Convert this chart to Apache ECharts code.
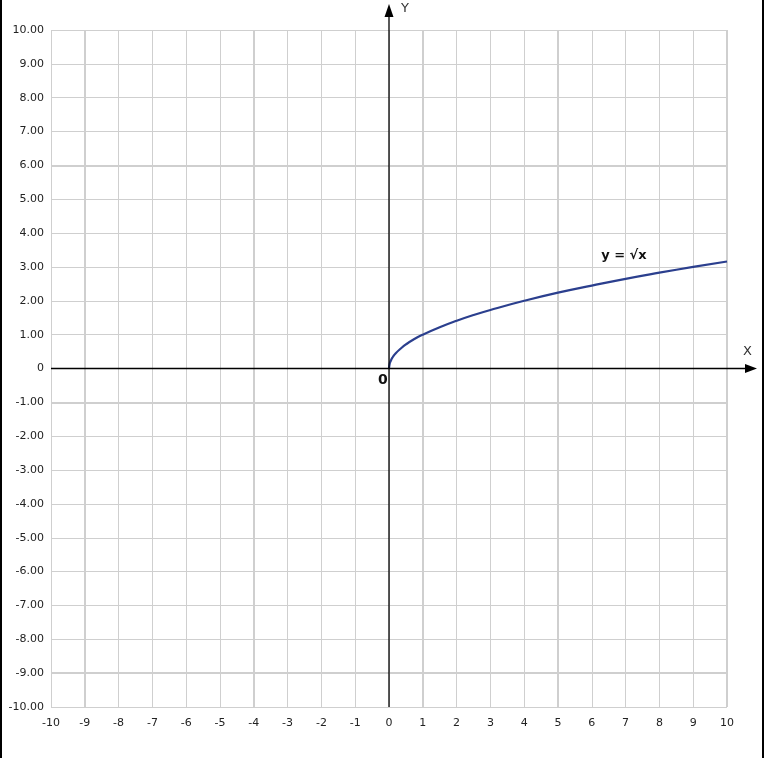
<!DOCTYPE html>
<html>
<head>
<meta charset="utf-8">
<script src="https://cdn.jsdelivr.net/npm/echarts@6/dist/echarts.min.js"></script>
<style>
html,body{margin:0;padding:0;background:#fff;}
#main{width:765px;height:758px;}
</style>
</head>
<body>
<div id="main"></div>
<script>
// Data
var xTicks = [-10, -9, -8, -7, -6, -5, -4, -3, -2, -1, 0, 1, 2, 3, 4, 5, 6, 7, 8, 9, 10];
var yTicks = [-10, -9, -8, -7, -6, -5, -4, -3, -2, -1, 0, 1, 2, 3, 4, 5, 6, 7, 8, 9, 10];
var curveX = [0, 0.02, 0.05, 0.1, 0.2, 0.35, 0.5, 0.75, 1, 1.5, 2, 2.5, 3, 4, 5, 6, 7, 8, 9, 10];
var curveY = [0, 0.14, 0.22, 0.32, 0.45, 0.59, 0.71, 0.87, 1, 1.22, 1.41, 1.58, 1.73, 2, 2.24, 2.45, 2.65, 2.83, 3, 3.16];
var curveLabel = 'y = √x';
var labelPos = [6.95, 3.34];
var thickX = [-9, -4, 1, 5, 10];
var thickY = [6, -1, -9];

var font = 'DejaVu Sans';
var chart = echarts.init(document.getElementById('main'));
var pts = curveX.map(function (x, i) { return [x, curveY[i]]; });

var thickLines = thickX.map(function (v) { return { xAxis: v }; })
  .concat(thickY.map(function (v) { return { yAxis: v }; }));

chart.setOption({
  animation: false,
  grid: { left: 51, right: 38, top: 30, bottom: 51 },
  xAxis: {
    type: 'value', min: -10, max: 10, interval: 1,
    axisLine: { show: false }, axisTick: { show: false },
    axisLabel: { color: '#222', fontFamily: font, fontSize: 11, margin: 11 },
    splitLine: { lineStyle: { color: '#cfcfcf', width: 1 } }
  },
  yAxis: {
    type: 'value', min: -10, max: 10, interval: 1,
    axisLine: { show: false }, axisTick: { show: false },
    axisLabel: {
      color: '#222', fontFamily: font, fontSize: 11, margin: 7,
      formatter: function (v) { return v === 0 ? '0' : v.toFixed(2); }
    },
    splitLine: { lineStyle: { color: '#cfcfcf', width: 1 } }
  },
  series: [
    {
      type: 'line', data: [], silent: true,
      markLine: {
        silent: true, symbol: 'none', label: { show: false },
        lineStyle: { color: '#cfcfcf', width: 2, type: 'solid' },
        data: thickLines
      }
    },
    {
      type: 'line', data: pts, smooth: true, showSymbol: false,
      lineStyle: { color: '#2b3f8e', width: 2.2 }, z: 5
    }
  ]
});

function px(p) { return chart.convertToPixel({ gridIndex: 0 }, p); }
var o = px([0, 0]);
var tl = px([-10, 10]);
var br = px([10, -10]);
var lp = px(labelPos);

chart.setOption({
  graphic: [
    { type: 'line', shape: { x1: tl[0], y1: o[1], x2: 752, y2: o[1] }, style: { stroke: '#000', lineWidth: 1.3 }, z: 10 },
    { type: 'polygon', shape: { points: [[757, o[1]], [745, o[1] - 4.5], [745, o[1] + 4.5]] }, style: { fill: '#000' }, z: 10 },
    { type: 'line', shape: { x1: o[0], y1: br[1], x2: o[0], y2: 10 }, style: { stroke: '#000', lineWidth: 1.3 }, z: 10 },
    { type: 'polygon', shape: { points: [[o[0], 4], [o[0] - 4.5, 17], [o[0] + 4.5, 17]] }, style: { fill: '#000' }, z: 10 },
    { type: 'text', x: 401, y: 2, style: { text: 'Y', fill: '#333', font: '13px ' + font }, z: 10 },
    { type: 'text', x: 743, y: 345, style: { text: 'X', fill: '#333', font: '13px ' + font }, z: 10 },
    { type: 'text', x: o[0] - 11, y: o[1] + 5, style: { text: '0', fill: '#111', font: 'bold 14px ' + font }, z: 10 },
    { type: 'text', x: lp[0], y: lp[1], style: { text: curveLabel, fill: '#111', font: 'bold 13px ' + font, align: 'center', verticalAlign: 'middle' }, z: 10 },
    { type: 'rect', shape: { x: 0, y: 0, width: 2, height: 758 }, style: { fill: '#000' }, z: 10 },
    { type: 'rect', shape: { x: 762, y: 0, width: 2, height: 758 }, style: { fill: '#000' }, z: 10 }
  ]
});
</script>
</body>
</html>
